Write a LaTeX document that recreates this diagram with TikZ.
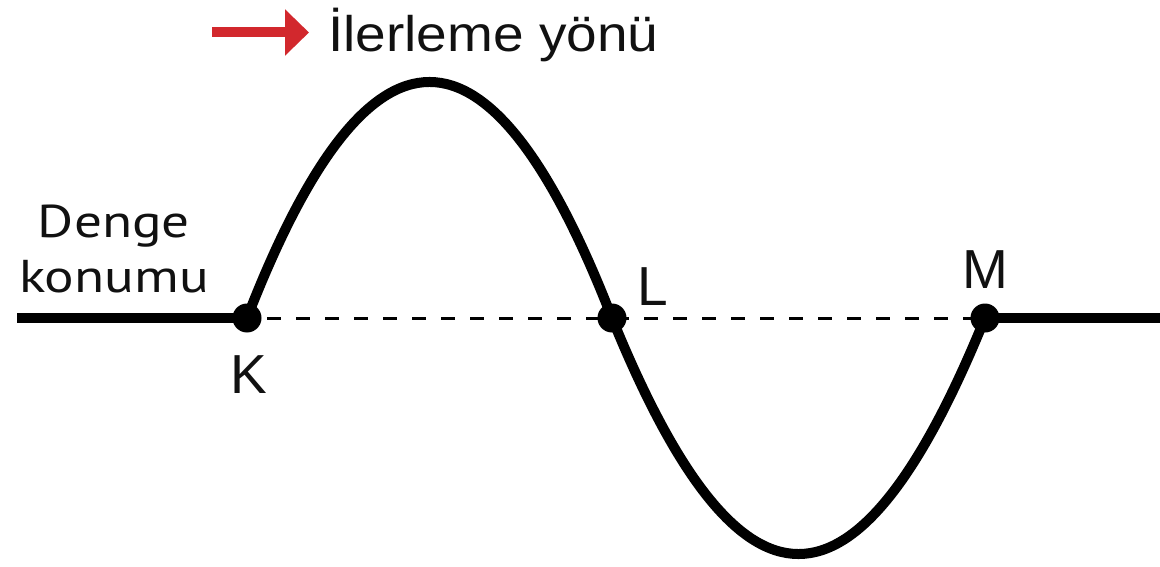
\documentclass[tikz,border=0pt]{standalone}
\usepackage{fontspec}
\usepackage{graphicx}
\setmainfont{Liberation Sans}
\newfontfamily\hum{PT Sans}
\usetikzlibrary{arrows.meta}
\definecolor{arrowred}{RGB}{210,40,45}
\definecolor{ink}{RGB}{17,17,17}
\tikzset{
  wave/.style={line width=10pt, black},
  eqline/.style={line width=10pt, black},
  guide/.style={line width=3pt, black, dash pattern=on 14pt off 15pt, dash phase=9pt},
  pointdot/.style={circle, fill=black, inner sep=0pt, minimum size=29pt},
  ptlabel/.style={anchor=base, inner sep=0pt, text=ink, font=\fontsize{55}{66}\selectfont},
  eqlabel/.style={anchor=base, inner sep=0pt, text=ink, font=\hum\fontsize{46}{55}\selectfont},
  dirlabel/.style={anchor=base west, inner sep=0pt, text=ink, font=\fontsize{50}{60}\selectfont},
  dirarrow/.style={line width=10pt, arrowred, -{Triangle[length=24pt,width=45pt]}}
}
\begin{document}
\begin{tikzpicture}[x=1pt,y=-1pt]
\useasboundingbox (0,0) rectangle (1160,567);
% points
\coordinate (Kc) at (247,318);
\coordinate (Lc) at (612,318);
\coordinate (Mc) at (985,318);
\coordinate (leftend) at (17,318);
\coordinate (rightend) at (1162,318);
% equilibrium dashed line
\draw[guide] (Kc) -- (Mc);
% solid rope parts
\draw[eqline] (leftend) -- (Kc);
\draw[eqline] (Mc) -- (rightend);
% wave
\draw[wave] (Kc) .. controls (369,3.3) and (490,3.3) .. (Lc);
\draw[wave] (Lc) .. controls (740,632.7) and (857,632.7) .. (Mc);
% dots
\node[pointdot] (K) at (Kc) {};
\node[pointdot] (L) at (Lc) {};
\node[pointdot] (M) at (Mc) {};
% labels
\node[ptlabel] (Klab) at (249,393) {K};
\node[ptlabel] (Llab) at (652.5,305) {L};
\node[ptlabel] (Mlab) at (985,288) {M};
\node[eqlabel] (denge) at (114,237) {\scalebox{1.2}[1]{Denge}};
\node[eqlabel] (konumu) at (114,292) {\scalebox{1.2}[1]{konumu}};
% direction
\coordinate (arA) at (212,32.5);
\coordinate (arB) at (309,32.5);
\draw[dirarrow] (arA) -- (arB);
\node[dirlabel] (dir) at (328,52) {\scalebox{1.1}[1]{İlerleme yönü}};
\end{tikzpicture}
\end{document}
